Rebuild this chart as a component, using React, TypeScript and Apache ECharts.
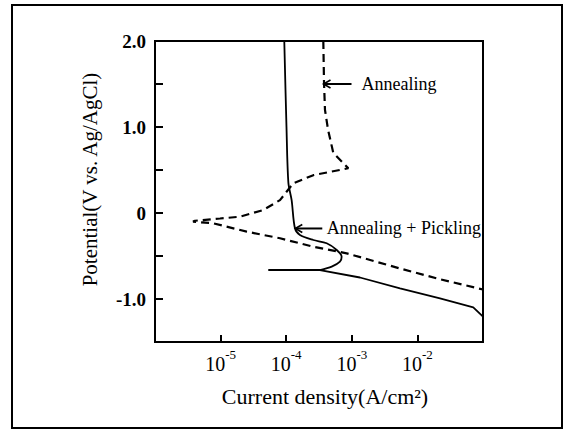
import React, { useEffect, useRef } from 'react';
import * as echarts from 'echarts';

const FONT = '"Liberation Serif", "Times New Roman", serif';
const FONT_PLAIN = 'Liberation Serif';

// Annealing (dashed): current density (A/cm2) and potential (V vs. Ag/AgCl)
const annealingCurrent = [3.68e-4, 3.77e-4, 3.9e-4, 4.34e-4, 5.22e-4, 8.85e-4, 2.59e-4, 1.28e-4, 8.04e-5, 4.48e-5, 1.98e-5, 9.8e-6, 4.07e-6, 3.8e-6, 7.74e-6, 2.5e-5, 8.04e-5, 2.59e-4, 8.36e-4, 5.43e-3, 2.21e-2, 1.0e-1];
const annealingPotential = [2.0, 1.52, 1.2, 0.97, 0.7, 0.52, 0.44, 0.345, 0.15, 0.035, -0.043, -0.064, -0.09, -0.1, -0.12, -0.217, -0.294, -0.392, -0.469, -0.645, -0.77, -0.89];

// Annealing + Pickling (solid), anodic/passive part with active peak
const pickledAnodicCurrent = [9.35e-5, 1.01e-4, 1.08e-4, 1.21e-4, 1.36e-4, 1.62e-4, 2.59e-4, 4.14e-4, 5.89e-4, 7.0e-4, 6.6e-4, 4.94e-4, 3.27e-4];
const pickledAnodicPotential = [2.0, 1.0, 0.35, 0.15, -0.178, -0.256, -0.314, -0.352, -0.43, -0.508, -0.566, -0.624, -0.663];

// Annealing + Pickling (solid), corrosion potential and cathodic part
const pickledCathodicCurrent = [5.33e-5, 3.27e-4, 1.33e-3, 5.43e-3, 2.21e-2, 7.11e-2, 1.0e-1];
const pickledCathodicPotential = [-0.663, -0.663, -0.75, -0.876, -0.992, -1.097, -1.206];

// y tick labels
const yTickValues = [2, 1, 0, -1];
const yTickLabels = ['2.0', '1.0', '0', '-1.0'];

// annotations: label and the curve point the arrow points to
const annotationLabels = ['Annealing', 'Annealing + Pickling'];
const annotationCurrent = [3.77e-4, 1.4e-4];
const annotationPotential = [1.5, -0.18];

const zip = (xs: number[], ys: number[]) => xs.map((x, i) => [x, ys[i]]);

export default function App() {
  const ref = useRef<HTMLDivElement>(null);
  useEffect(() => {
    if (!ref.current) return;
    const chart = echarts.init(ref.current, null, { renderer: 'svg' });
    const lineBase = {
      type: 'line' as const,
      showSymbol: false,
      symbol: 'none',
      animation: false,
      clip: true,
    };
    chart.setOption({
      animation: false,
      backgroundColor: '#fff',
      grid: {
        left: 155, right: 85, top: 41, bottom: 90,
        show: true, borderColor: '#000', borderWidth: 2,
        containLabel: false, outerBoundsMode: 'none',
      },
      xAxis: {
        type: 'log',
        logBase: 10,
        min: 1e-6,
        max: 1e-1,
        splitNumber: 5,
        name: 'Current density(A/cm²)',
        nameLocation: 'middle',
        nameGap: 43,
        nameTextStyle: { fontFamily: FONT, fontSize: 22, color: '#000', padding: [0, 0, 0, 12] },
        axisLine: { show: true, onZero: false, lineStyle: { color: '#000', width: 2 } },
        axisTick: { show: true, inside: true, length: 7, lineStyle: { color: '#000', width: 2 } },
        splitLine: { show: false },
        minorTick: { show: false },
        axisLabel: {
          showMinLabel: false,
          showMaxLabel: false,
          margin: 6,
          fontFamily: FONT_PLAIN,
          fontSize: 20,
          lineHeight: 26,
          color: '#000',
          formatter: (v: number) => {
            const e = Math.round(Math.log10(v));
            if (e <= -6 || e >= -1) return '';
            return `{a|10}{b|${e}}`;
          },
          rich: {
            a: { fontFamily: FONT_PLAIN, fontSize: 20, color: '#000', verticalAlign: 'bottom' },
            b: { fontFamily: FONT_PLAIN, fontSize: 13, color: '#000', verticalAlign: 'top' },
          },
        },
      },
      yAxis: {
        type: 'value',
        min: -1.5,
        max: 2.0,
        interval: 0.5,
        name: 'Potential(V vs. Ag/AgCl)',
        nameLocation: 'middle',
        nameGap: 55,
        nameTextStyle: { fontFamily: FONT, fontSize: 21, color: '#000', padding: [0, 0, 0, 24] },
        axisLine: { show: true, lineStyle: { color: '#000', width: 2 } },
        axisTick: { show: true, inside: true, length: 8, lineStyle: { color: '#000', width: 2 } },
        splitLine: { show: false },
        axisLabel: {
          margin: 9,
          fontFamily: FONT,
          fontSize: 19,
          fontWeight: 'bold',
          color: '#000',
          formatter: (v: number) => {
            const i = yTickValues.findIndex((t) => Math.abs(t - v) < 1e-9);
            return i >= 0 ? yTickLabels[i] : '';
          },
        },
      },
      series: [
        {
          ...lineBase,
          name: 'Annealing',
          data: zip(annealingCurrent, annealingPotential),
          lineStyle: { color: '#000', width: 2.2, type: [8, 5] },
        },
        {
          ...lineBase,
          name: 'Annealing + Pickling',
          smooth: 0.3,
          data: zip(pickledAnodicCurrent, pickledAnodicPotential),
          lineStyle: { color: '#000', width: 1.8, type: 'solid' },
        },
        {
          ...lineBase,
          name: 'Annealing + Pickling (cathodic)',
          data: zip(pickledCathodicCurrent, pickledCathodicPotential),
          lineStyle: { color: '#000', width: 1.8, type: 'solid' },
        },
      ],
    });

    const graphics: any[] = [
      {
        type: 'rect',
        shape: { x: 12, y: 5, width: 550, height: 423 },
        style: { fill: 'none', stroke: '#000', lineWidth: 2 },
        silent: true,
      },
    ];
    const shaftLengths = [28, 27];
    const textGaps = [38, 31.5];
    annotationLabels.forEach((label, i) => {
      const p = chart.convertToPixel({ gridIndex: 0 }, [annotationCurrent[i], annotationPotential[i]]) as number[];
      const tipX = p[0] - 0.5;
      const y = p[1];
      graphics.push({
        type: 'line',
        shape: { x1: tipX, y1: y, x2: tipX + shaftLengths[i], y2: y },
        style: { stroke: '#000', lineWidth: 2 },
        silent: true,
      });
      graphics.push({
        type: 'polyline',
        shape: { points: [[tipX + 7, y - 4], [tipX, y], [tipX + 7, y + 4]] },
        style: { stroke: '#000', lineWidth: 1.6, fill: 'none' },
        silent: true,
      });
      graphics.push({
        type: 'text',
        x: tipX + textGaps[i],
        y: y,
        style: {
          text: label,
          fontFamily: FONT,
          fontSize: 18,
          fill: '#000',
          verticalAlign: 'middle',
          align: 'left',
        },
        silent: true,
      });
    });
    chart.setOption({ graphic: graphics });

    return () => chart.dispose();
  }, []);
  return (
    <div
      ref={ref}
      style={{ position: 'absolute', left: 0, top: 0, width: 568, height: 432 }}
    />
  );
}
